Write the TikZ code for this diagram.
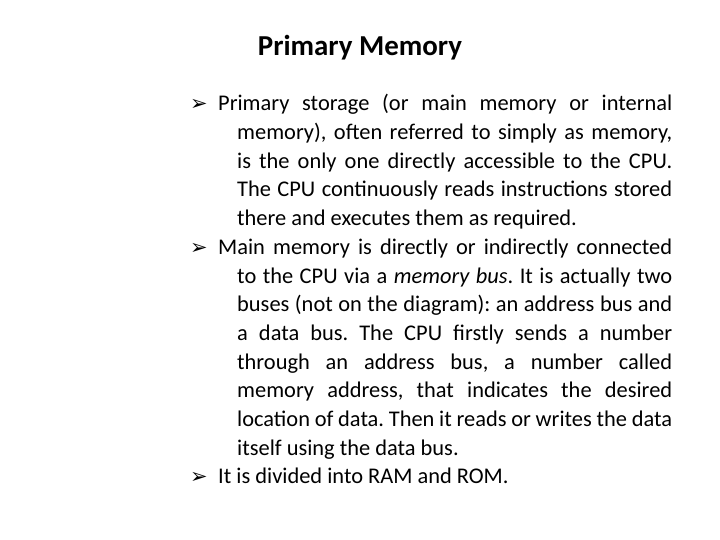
\documentclass[tikz,border=0pt]{standalone}
\usepackage{fontspec}
\setmainfont{Carlito}
\newfontfamily\dejavu{DejaVu Sans}
\begin{document}
\begin{tikzpicture}[x=1bp,y=-1bp,
  body/.style={anchor=north west,inner sep=0pt,text width=482bp,align=justify,font=\fontsize{22.5}{28.8}\selectfont},
  ttl/.style={inner sep=0pt,font=\fontsize{29}{34}\selectfont\bfseries}]
\useasboundingbox[fill=white] (0,0) rectangle (720,540);
\newcommand\bitem[1]{\par\hangindent=47bp\hangafter=1\noindent\makebox[28bp][l]{\dejavu\fontsize{21}{29}\selectfont ➢}#1}
\node[ttl] (title) at (360,48) {Primary Memory};
\node[body] (text) at (190,82) {\hyphenpenalty=10000\exhyphenpenalty=10000\frenchspacing%
\bitem{Primary storage (or main memory or internal memory), often referred to simply as memory, is the only one directly accessible to the CPU. The CPU continuously reads instructions stored there and executes them as required.}
\bitem{Main memory is directly or indirectly connected to the CPU via a \textit{memory bus}. It is actually two buses (not on the diagram): an address bus and a data bus. The CPU firstly sends a number through an address bus, a number called memory address, that indicates the desired location of data. Then it reads or writes the data itself using the data bus.}
\bitem{It is divided into RAM and ROM.}};
\end{tikzpicture}
\end{document}
